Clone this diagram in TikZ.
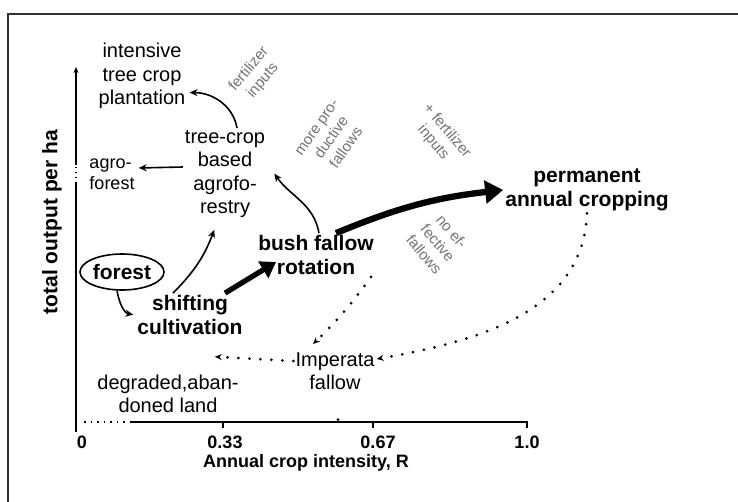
\documentclass[tikz,border=0pt]{standalone}
\usepackage{fontspec}
\setmainfont{Liberation Sans}
\usetikzlibrary{arrows.meta, shapes.geometric}
\tikzset{
    stagelbl/.style={font=\fontsize{21}{24}\selectfont\bfseries, align=center, inner sep=2pt},
    minorlbl/.style={font=\fontsize{20}{23.5}\selectfont, align=center, inner sep=2pt},
    inputlbl/.style={font=\fontsize{15}{18}\selectfont, text=black!55, align=center, rotate=#1},
    axislbl/.style={font=\fontsize{18}{20}\selectfont\bfseries},
    thinarr/.style={-{Stealth[length=8pt,width=7pt]}, line width=1.6pt, shorten >=2pt},
    thickarr/.style={-{Triangle[length=#1,width=1.25*#1]}, line width=0.35*#1},
    dotarr/.style={-{Stealth[length=7pt,width=6pt]}, line width=3pt, line cap=round,
                dash pattern=on 0pt off 11pt},
}

\begin{document}
\begin{tikzpicture}[x=1pt, y=1pt]

    \useasboundingbox (0,0) rectangle (738,-501);
    \clip (0,0) rectangle (738,-501);
    \draw[line width=1.5pt, black!80] (8,-14) rectangle (760,-530);

    % axes
    \coordinate (orig) at (76,-432);
    \coordinate (ybrk1) at (76,-183);
    \coordinate (ybrk2) at (76,-165);
    \coordinate (ytop) at (76,-67);
    \coordinate (xstart) at (130,-422);
    \coordinate (xend) at (527,-422);
    \draw[line width=1.5pt] (orig) -- (ybrk1);
    \draw[line width=1.5pt, -{Stealth[length=6pt,width=5pt]}] (ybrk2) -- (ytop);
    \draw[line width=1.2pt, dash pattern=on 1pt off 4pt] (ybrk1) -- (ybrk2);
    \draw[line width=1.5pt] (xstart) -- (xend) -- ++(0,-6);
    \draw[line width=1.4pt, dash pattern=on 1.5pt off 5pt] (84,-422) -- (xstart);
    \draw[line width=1.2pt] (223,-422) -- ++(0,-6) (373,-422) -- ++(0,-6);
    \fill (338,-419.5) circle (1.5pt);

    \node[axislbl] (t0) at (82,-442) {0};
    \node[axislbl] (t33) at (225,-442) {0.33};
    \node[axislbl] (t67) at (378,-442) {0.67};
    \node[axislbl] (t100) at (527,-442) {1.0};
    \node[axislbl] (xlab) at (306,-463) {Annual crop intensity, R};
    \node[stagelbl, rotate=90] (ylab) at (52,-222) {total output per ha};

    % land-use stages
    \node[minorlbl] (plant) at (142,-76) {intensive\\tree crop\\plantation};
    \node[minorlbl, align=left, font=\fontsize{18}{21}\selectfont] (agrofor) at (112,-174) {agro-\\forest};
    \node[minorlbl] (treecrop) at (225,-174) {tree-crop\\based\\agrofo-\\restry};
    \node[stagelbl, draw, ellipse, line width=1.6pt, inner sep=0pt,
          minimum width=84pt, minimum height=36pt] (forest) at (122,-272) {forest};
    \node[stagelbl] (shifting) at (190,-315) {shifting\\cultivation};
    \node[stagelbl] (bush) at (316,-255) {bush fallow\\rotation};
    \node[stagelbl] (perm) at (587,-190) {permanent\\annual cropping};
    \node[minorlbl] (imperata) at (335,-371) {Imperata\\fallow};
    \node[minorlbl] (degraded) at (168,-394) {degraded,aban-\\doned land};

    % inputs along the transitions
    \node[inputlbl=50] (fert1) at (256,-75) {fertilizer\\inputs};
    \node[inputlbl=55] (moreprod) at (332,-138) {more pro-\\ductive\\fallows};
    \node[inputlbl=-50] (fert2) at (440,-137) {+ fertilizer\\inputs};
    \node[inputlbl=-50] (noeff) at (438,-243) {no ef-\\fective\\fallows};

    % transitions
    \draw[thinarr] ([xshift=12pt]treecrop.north) to[out=100, in=0] (plant.-20);
    \draw[thinarr] ([yshift=7pt]treecrop.west) -- ([yshift=6pt]agrofor.east);
    \draw[thinarr] (forest.-105) to[out=-80, in=170] (shifting.west);
    \draw[thinarr] ([xshift=-17pt]shifting.north) to[bend right=12] ([xshift=-10pt,yshift=-8pt]treecrop.south);
    \draw[thickarr=15pt] ([xshift=35pt]shifting.north) -- ([xshift=20pt,yshift=-7pt]bush.west);
    \draw[thinarr] ([xshift=3pt]bush.north) to[out=100, in=-55] ([xshift=6pt,yshift=2pt]treecrop.east);
    \draw[thickarr=18pt] ([xshift=20pt]bush.north) to[bend left=8] (perm.west);
    \draw[dotarr] (perm.south) to[out=-92, in=10] ([yshift=12pt]imperata.east);
    \draw[dotarr] ([xshift=55pt]bush.south) to[bend left=5] ([xshift=-22pt,yshift=6pt]imperata.north);
    \draw[dotarr] ([yshift=10pt]imperata.west) -- ([xshift=-26pt,yshift=16pt]degraded.north east);

\end{tikzpicture}
\end{document}
